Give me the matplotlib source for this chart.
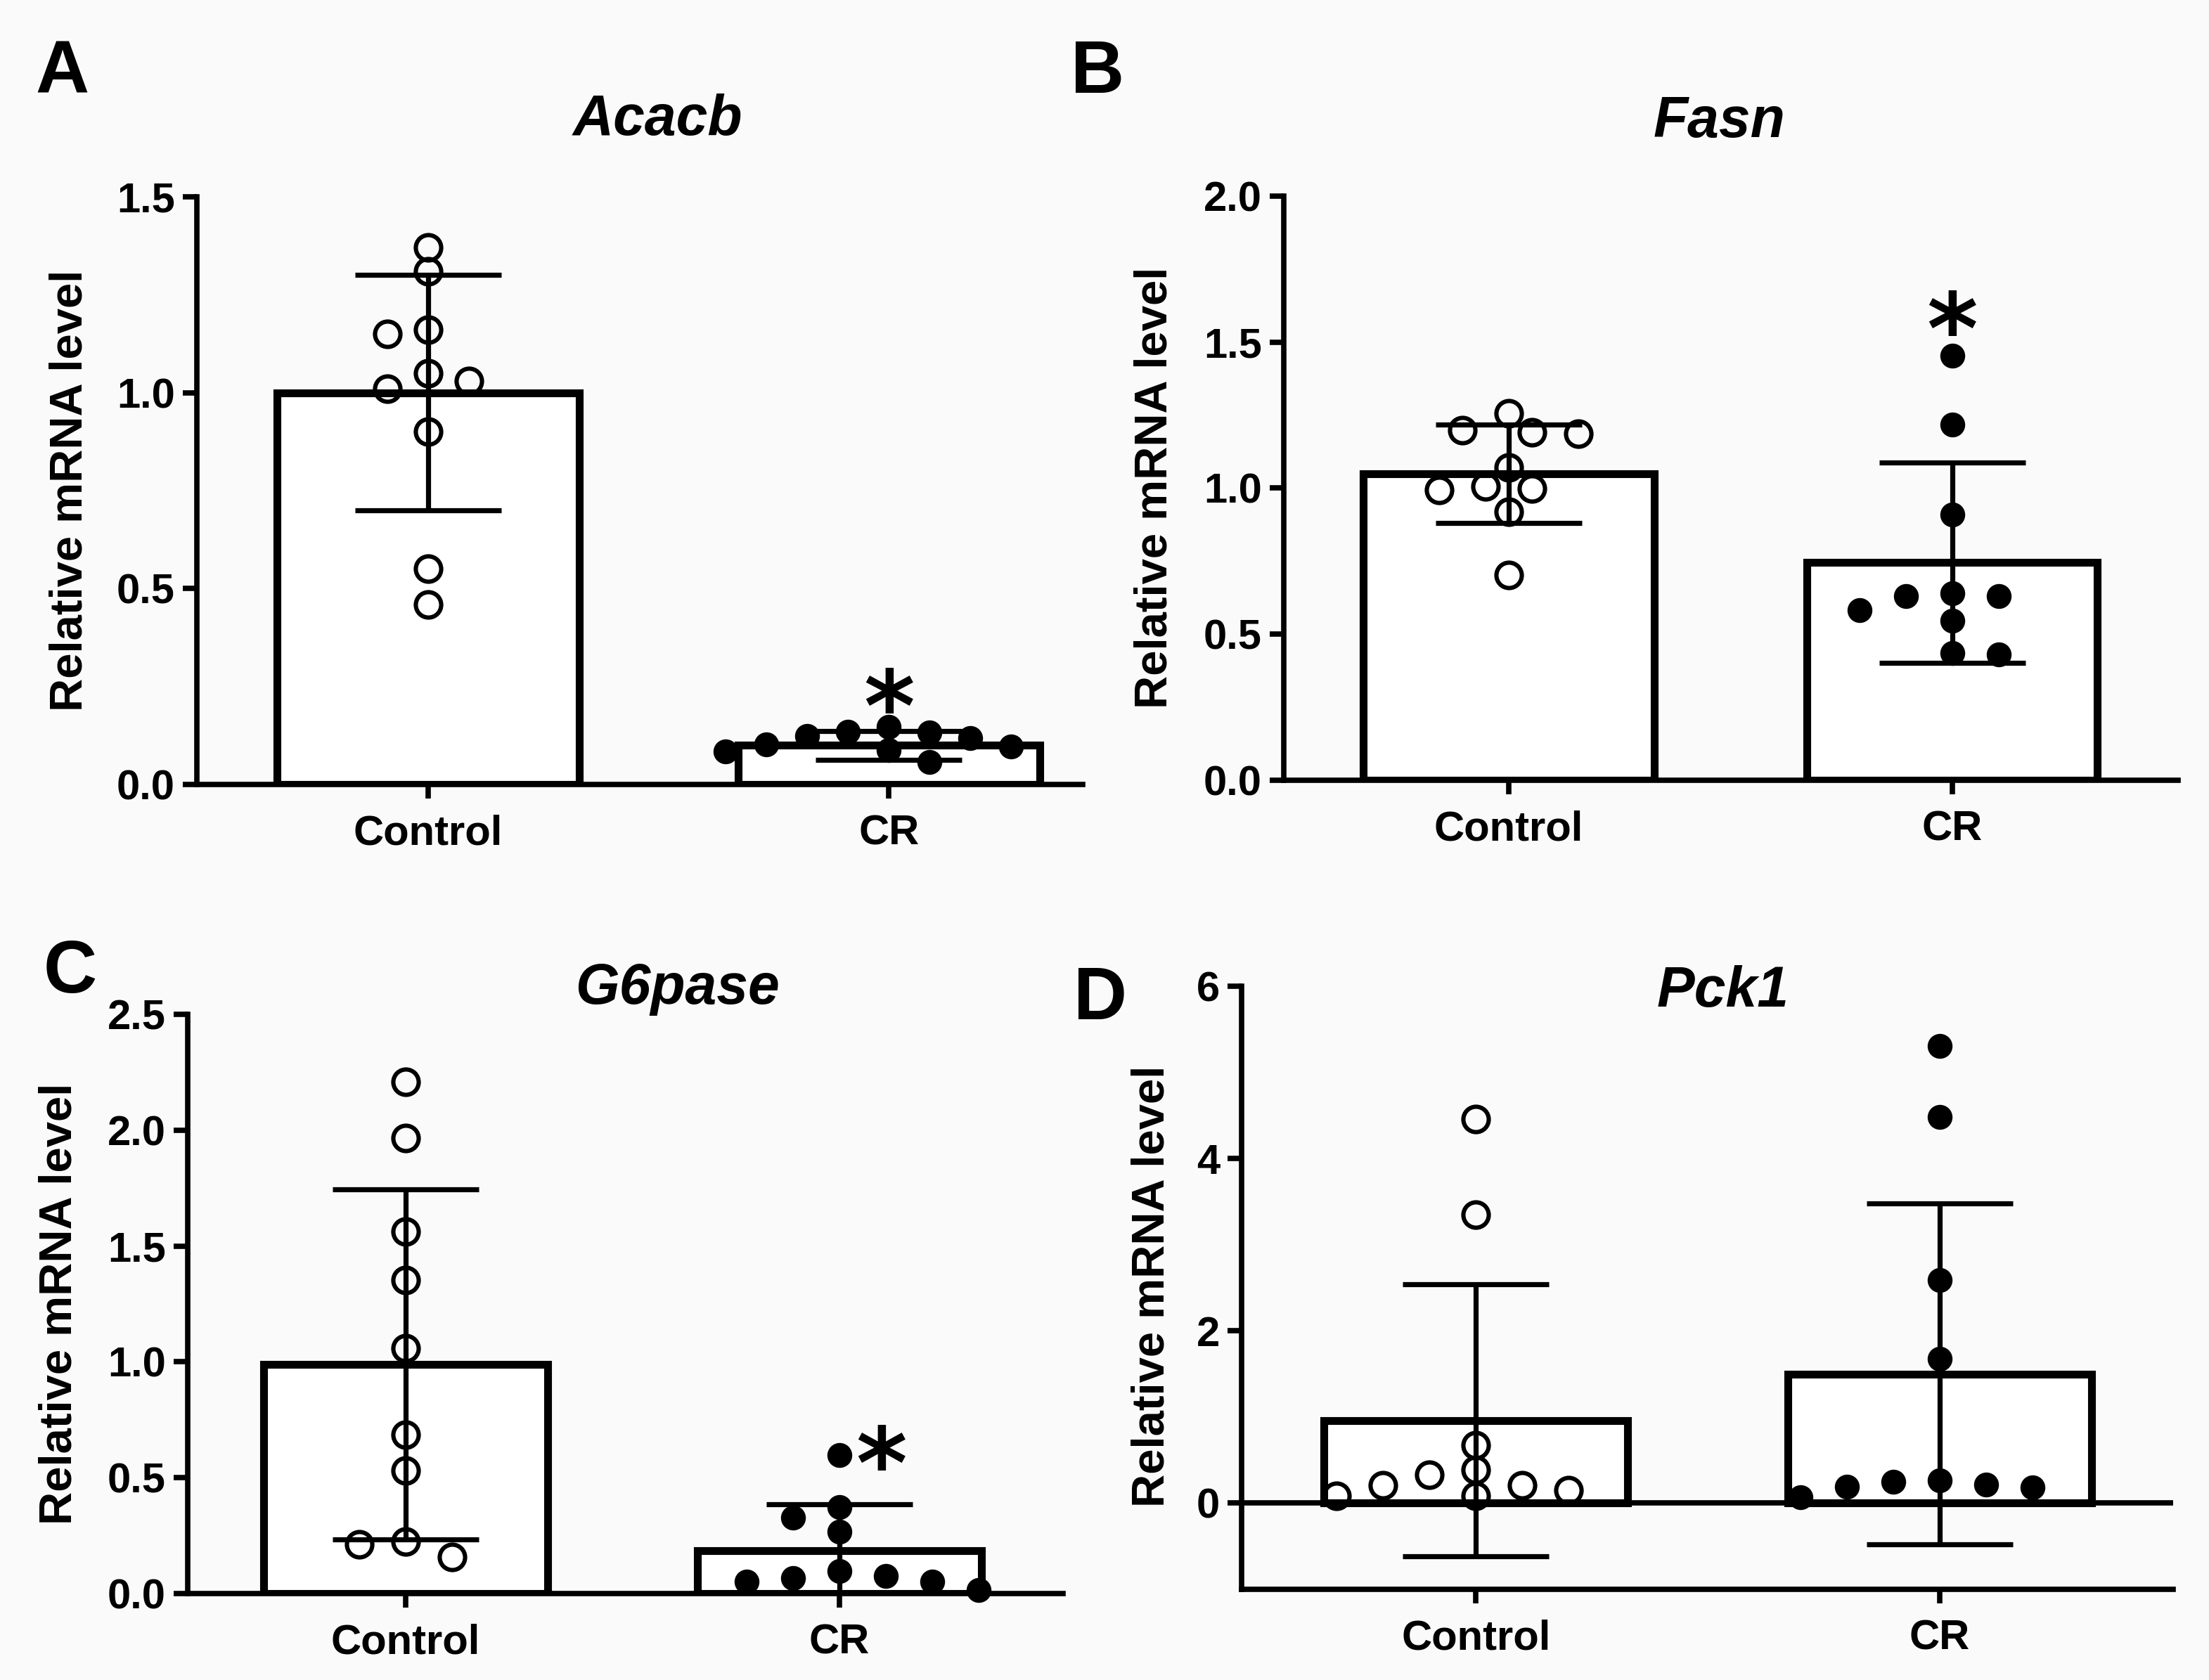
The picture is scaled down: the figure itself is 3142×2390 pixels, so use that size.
import matplotlib
matplotlib.use("Agg")
import matplotlib.pyplot as plt
import numpy as np

plt.rcParams['font.family'] = ['Liberation Sans', 'DejaVu Sans']
plt.rcParams['font.weight'] = 'bold'

W, H = 3142, 2390  # output size in pixels (dpi 100)

groups = ["Control", "CR"]

# relative mRNA levels (10 animals per group)
acacb_control = [1.37, 1.31, 1.16, 1.15, 1.05, 1.03, 1.01, 0.90, 0.55, 0.46]
acacb_cr = [0.148, 0.135, 0.133, 0.124, 0.118, 0.103, 0.097, 0.088, 0.085, 0.058]
acacb_mean = [1.00, 0.10]
acacb_sd = [0.30, 0.037]

fasn_control = [1.256, 1.199, 1.191, 1.187, 1.071, 1.007, 0.999, 0.995, 0.919, 0.702]
fasn_cr = [1.453, 1.219, 0.910, 0.641, 0.631, 0.631, 0.583, 0.547, 0.436, 0.430]
fasn_mean = [1.05, 0.745]
fasn_sd = [0.168, 0.343]

g6pase_control = [2.21, 1.965, 1.563, 1.353, 1.060, 0.687, 0.530, 0.223, 0.212, 0.157]
g6pase_cr = [0.597, 0.374, 0.329, 0.268, 0.096, 0.076, 0.066, 0.051, 0.051, 0.015]
g6pase_mean = [0.99, 0.185]
g6pase_sd = [0.755, 0.20]

pck1_control = [4.458, 3.349, 0.674, 0.383, 0.329, 0.207, 0.207, 0.152, 0.085, 0.085]
pck1_cr = [5.305, 4.481, 2.590, 1.672, 0.261, 0.248, 0.212, 0.193, 0.179, 0.071]
pck1_mean = [0.96, 1.50]
pck1_sd = [1.58, 1.98]


def px(x):
    return x / W


def py(y):
    return 1 - y / H


# panel options: box in pixels (left, top, right, bottom), limits, ticks, labels
panels = [
    dict(letter="A", gene="Acacb", ctrl=acacb_control, cr=acacb_cr, mean=acacb_mean, sd=acacb_sd,
         box=(280, 280, 1540, 1116), xlim=(-0.502, 1.421), ylim=(0, 1.5), yticks=[0, 0.5, 1.0, 1.5],
         fmt="{:.1f}", letter_xy=(50, 132), title_xy=(935, 192), ylab_xy=(100, 698),
         star=(1.0, 0.18), step=58),
    dict(letter="B", gene="Fasn", ctrl=fasn_control, cr=fasn_cr, mean=fasn_mean, sd=fasn_sd,
         box=(1826, 279, 3098, 1110), xlim=(-0.507, 1.509), ylim=(0, 2.0), yticks=[0, 0.5, 1.0, 1.5, 2.0],
         fmt="{:.1f}", letter_xy=(1523, 132), title_xy=(2445, 195), ylab_xy=(1643, 694),
         star=(1.0, 1.52), step=66),
    dict(letter="C", gene="G6pase", ctrl=g6pase_control, cr=g6pase_cr, mean=g6pase_mean, sd=g6pase_sd,
         box=(267, 1443, 1512, 2267), xlim=(-0.502, 1.515), ylim=(0, 2.5), yticks=[0, 0.5, 1.0, 1.5, 2.0, 2.5],
         fmt="{:.1f}", letter_xy=(62, 1412), title_xy=(963, 1428), ylab_xy=(85, 1855),
         star=(1.096, 0.53), step=66),
    dict(letter="D", gene="Pck1", ctrl=pck1_control, cr=pck1_cr, mean=pck1_mean, sd=pck1_sd,
         box=(1766, 1403, 3091, 2261), xlim=(-0.505, 1.503), ylim=(-1, 6), yticks=[0, 2, 4, 6],
         fmt="{:.0f}", letter_xy=(1527, 1450), title_xy=(2451, 1432), ylab_xy=(1638, 1830),
         star=None, step=66),
]


def swarm(ax, x0, values, step=64, ry=30):
    # greedy beeswarm in pixel space, highest values placed first,
    # ties in distance from the centre go to the emptier side
    tr = ax.transData
    unit = tr.transform((1, 0))[0] - tr.transform((0, 0))[0]
    placed = []
    xs = np.zeros(len(values))
    for i in np.argsort(values)[::-1]:
        yp = tr.transform((x0, values[i]))[1]
        left = sum(1 for a, _ in placed if a < 0)
        right = sum(1 for a, _ in placed if a > 0)
        cands = [0.0]
        for k in range(1, 40):
            pair = [-k * step / 2, k * step / 2]
            cands += pair if left <= right else pair[::-1]
        for c in cands:
            if all(((c - a) / step) ** 2 + ((yp - b) / ry) ** 2 >= 1 for a, b in placed):
                break
        placed.append((c, yp))
        xs[i] = x0 + c / unit
    return xs


fig = plt.figure(figsize=(W / 100, H / 100), dpi=100, facecolor="#fafafa")

for p in panels:
    l, t, r, b = p["box"]
    ax = fig.add_axes([px(l), py(b), (r - l) / W, (b - t) / H])
    ax.set_facecolor("none")
    ax.set_xlim(*p["xlim"])
    ax.set_ylim(*p["ylim"])

    x = np.arange(len(groups))
    ax.bar(x, p["mean"], width=0.655, color="white", edgecolor="black", linewidth=8, zorder=2)
    ax.errorbar(x, p["mean"], yerr=p["sd"], fmt="none", ecolor="black", elinewidth=5.2,
                capsize=75, capthick=5.2, zorder=3)

    xs = swarm(ax, 0, p["ctrl"], step=p["step"])
    ax.plot(xs, p["ctrl"], "o", ms=26, mfc="none", mec="black", mew=4.4, zorder=4, clip_on=False)
    xs = swarm(ax, 1, p["cr"], step=p["step"])
    ax.plot(xs, p["cr"], "o", ms=25.5, mfc="black", mec="black", mew=0, zorder=4, clip_on=False)

    if p["ylim"][0] < 0:
        ax.axhline(0, color="black", lw=5.5, zorder=1.5)

    ax.spines[["top", "right"]].set_visible(False)
    ax.spines[["left", "bottom"]].set_linewidth(5.5)
    ax.set_xticks(x, groups)
    ax.set_yticks(p["yticks"], [p["fmt"].format(v) for v in p["yticks"]])
    ax.tick_params(axis="both", length=14.4, width=5.5, labelsize=43)
    ax.tick_params(axis="x", pad=16)
    ax.tick_params(axis="y", pad=8)

    if p["star"] is not None:
        ax.text(p["star"][0], p["star"][1], "*", fontsize=100, family="DejaVu Sans",
                fontweight="bold", ha="center", va="center", zorder=5)

    fig.text(px(p["letter_xy"][0]), py(p["letter_xy"][1]), p["letter"], fontsize=76,
             ha="left", va="baseline")
    fig.text(px(p["title_xy"][0]), py(p["title_xy"][1]), p["gene"], fontsize=58,
             style="italic", ha="center", va="baseline")
    fig.text(px(p["ylab_xy"][0]), py(p["ylab_xy"][1]), "Relative mRNA level", fontsize=47,
             rotation=90, ha="center", va="center")

fig.savefig("out.png", dpi=100, facecolor=fig.get_facecolor())
